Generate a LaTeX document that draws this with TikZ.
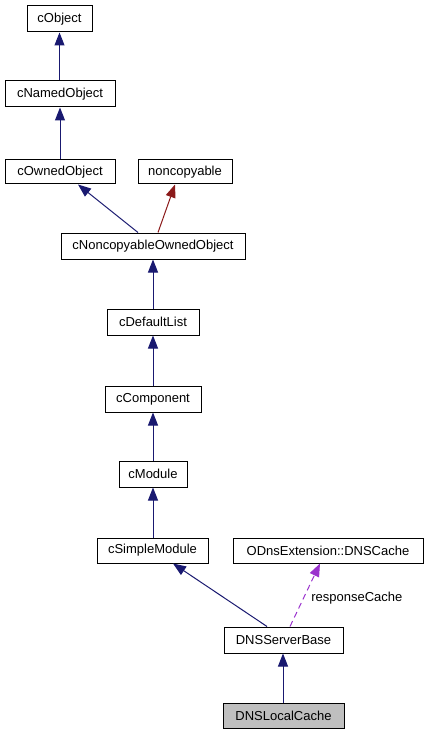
\documentclass[tikz,border=0pt]{standalone}
\usepackage{fontspec}
\setmainfont{Liberation Sans}
\usetikzlibrary{arrows.meta}
\definecolor{navy}{RGB}{25,25,112}
\definecolor{fire}{RGB}{139,26,26}
\definecolor{orchid}{RGB}{154,50,205}
\begin{document}
\begin{tikzpicture}[x=1pt,y=-1pt,
  cls/.style={draw=black,line width=1pt,fill=white,inner sep=0pt,font=\fontsize{13}{15}\selectfont},
  inh/.style={navy,line width=1pt,-{Triangle[length=13pt,width=10pt]}},
  priv/.style={fire,line width=1pt,-{Triangle[length=13pt,width=10pt]}},
  use/.style={orchid,line width=1pt,dash pattern=on 6pt off 4pt,-{Triangle[length=13pt,width=10pt]}}]
\useasboundingbox (0,0) rectangle (428,735);
\newcommand{\cbox}[6]{\node[cls,#6,minimum width={#3-#2},minimum height={#5-#4}] (#1) at ({(#2+#3)/2},{(#4+#5)/2})}
\cbox{obj}{27}{92}{6}{32}{}{cObject};
\cbox{named}{5}{115}{81}{107}{}{cNamedObject};
\cbox{owned}{5}{115}{160}{184}{}{cOwnedObject};
\cbox{nonc}{138}{232}{160}{184}{}{noncopyable};
\cbox{ncoo}{61}{245}{233}{259}{}{cNoncopyableOwnedObject};
\cbox{dlist}{107}{199}{309}{335}{}{cDefaultList};
\cbox{comp}{105}{201}{386}{412}{}{cComponent};
\cbox{mod}{119}{187}{461}{487}{}{cModule};
\cbox{smod}{97}{208}{538}{563}{}{cSimpleModule};
\cbox{cache}{233}{423}{538}{563}{}{ODnsExtension::DNSCache};
\cbox{srv}{224}{343}{627}{653}{}{DNSServerBase};
\cbox{loc}{223}{344}{703}{728}{fill={rgb,255:red,191;green,191;blue,191}}{DNSLocalCache};
\draw[inh] (named.north -| obj.south) -- (obj.south);
\draw[inh] (owned.north -| named.south) -- (named.south);
\draw[inh] ([xshift=-15pt]ncoo.north) -- ([xshift=18pt]owned.south);
\draw[priv] ([xshift=5pt]ncoo.north) -- ([xshift=-10pt]nonc.south);
\draw[inh] (dlist.north) -- (dlist.north |- ncoo.south);
\draw[inh] (comp.north) -- (comp.north |- dlist.south);
\draw[inh] (mod.north) -- (mod.north |- comp.south);
\draw[inh] (smod.north -| mod.south) -- (mod.south);
\draw[inh] ([xshift=-16.5pt]srv.north) -- ([xshift=20.5pt]smod.south);
\draw[use] ([xshift=6.5pt]srv.north) -- node[right=4pt,black,font=\fontsize{13}{15}\selectfont,pos=0.45] (lbl) {responseCache} ([xshift=-8pt]cache.south);
\draw[inh] ([xshift=-0.5pt]loc.north) -- ([xshift=-0.5pt]srv.south);
\end{tikzpicture}
\end{document}
